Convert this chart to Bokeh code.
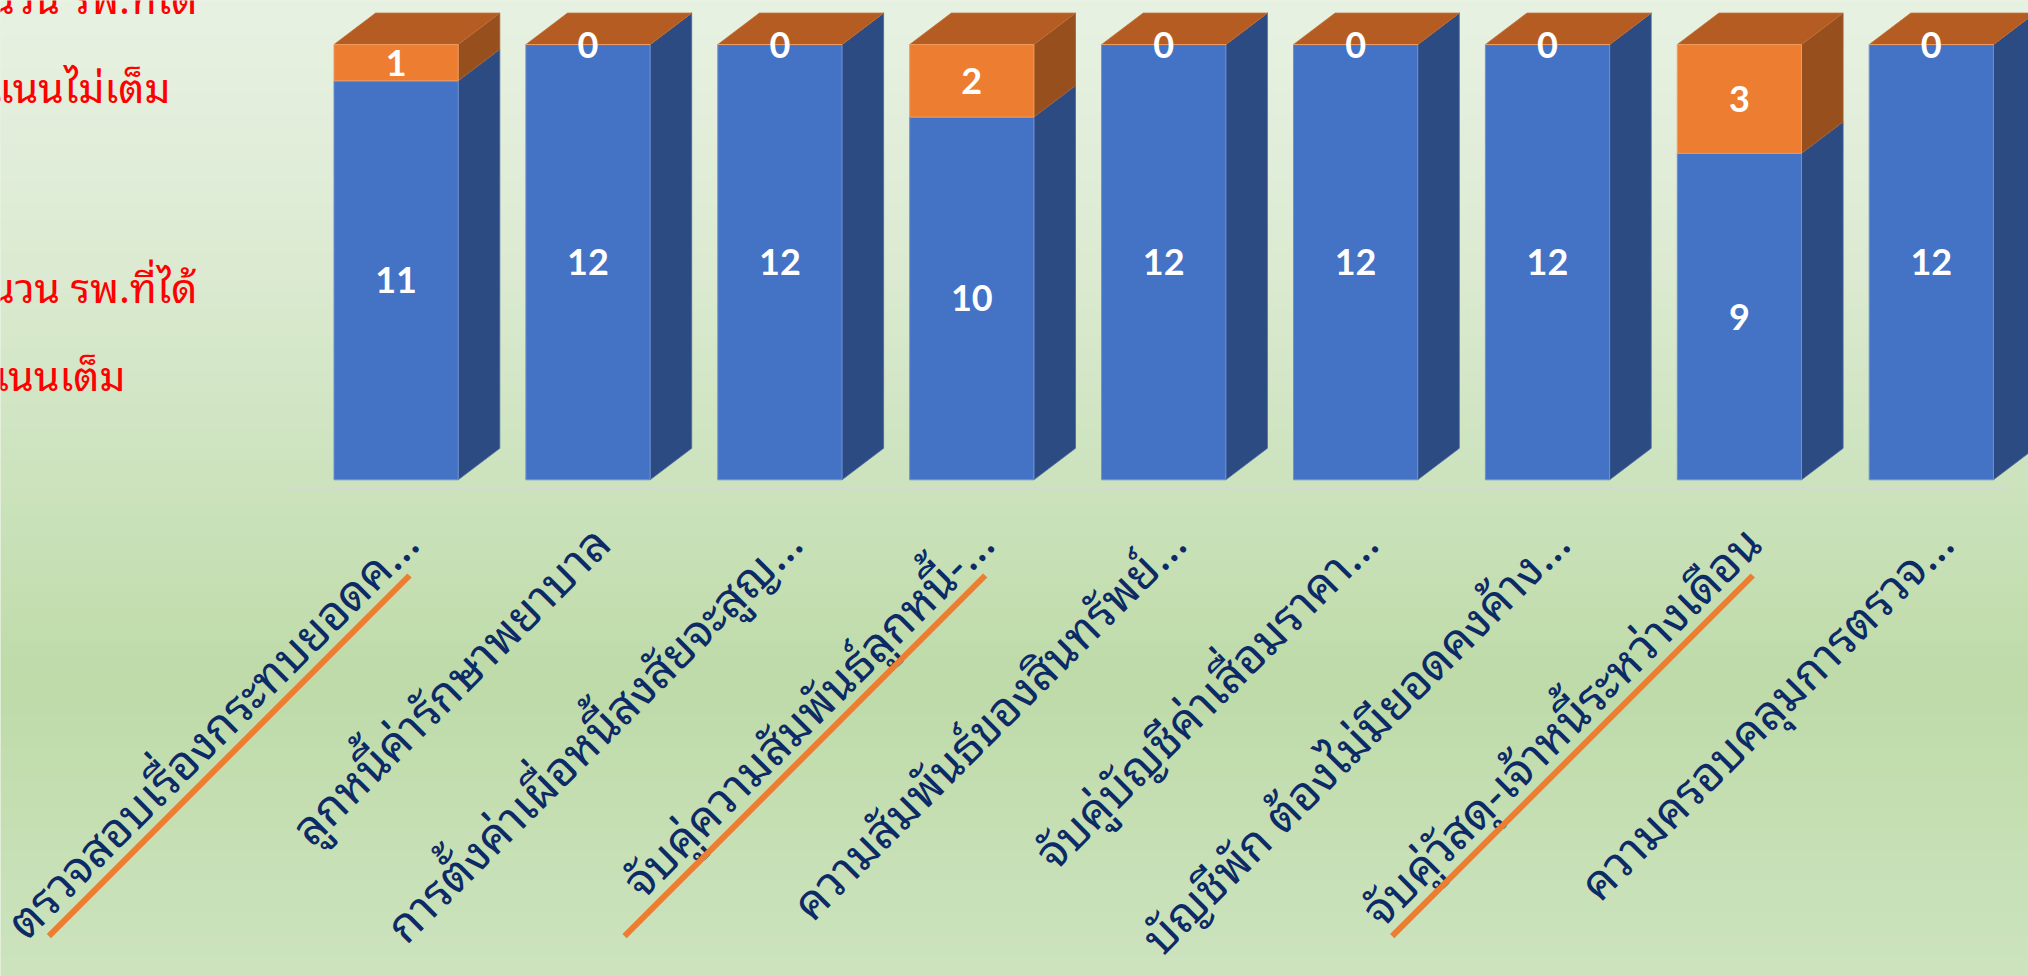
import numpy as np
from bokeh.plotting import figure
from bokeh.models import Range1d, Label, ColumnDataSource
from bokeh.core.properties import value
from bokeh.embed import file_html
from bokeh.resources import INLINE

# ---------------- data ----------------
categories = [
    "ตรวจสอบเรื่องกระทบยอดค…",
    "ลูกหนี้ค่ารักษาพยาบาล",
    "การตั้งค่าเผื่อหนี้สงสัยจะสูญ…",
    "จับคู่ความสัมพันธ์ลูกหนี้-…",
    "ความสัมพันธ์ของสินทรัพย์…",
    "จับคู่บัญชีค่าเสื่อมราคา…",
    "บัญชีพัก ต้องไม่มียอดคงค้าง…",
    "จับคู่วัสดุ-เจ้าหนี้ระหว่างเดือน",
    "ความครอบคลุมการตรวจ…",
]
full_score = [11, 12, 12, 10, 12, 12, 12, 9, 12]      # blue series
not_full = [1, 0, 0, 2, 0, 0, 0, 3, 0]                 # orange series
legend_not_full = ["จำนวน รพ.ที่ได้", "คะแนนไม่เต็ม"]
legend_full = ["จำนวน รพ.ที่ได้", "คะแนนเต็ม"]

# ---------------- geometry / style ----------------
W, H = 2028, 976
PX, PY = 191.9, 36.27            # px per category / px per unit
XS = -395.6 / PX
XE = XS + W / PX
YE = 479.3 / PY
YS = YE - H / PY

BAR_W = 124.2 / PX
DDX = 41.6 / PX
DDY = 31.5 / PY

BLUE, BLUE_SIDE = "#4472C4", "#2C4B82"
ORANGE, ORANGE_SIDE, ORANGE_TOP = "#ED7D31", "#984F1E", "#B45C22"
NAVY = "#0B2A66"
THAI_FONT = "Noto Sans Thai Looped, Noto Sans Thai, sans-serif"

p = figure(width=W, height=H, x_range=Range1d(XS, XE), y_range=Range1d(YS, YE),
           output_backend="svg", toolbar_location=None, min_border=0,
           background_fill_color="#D5E8C9", border_fill_color="#D5E8C9")
p.axis.visible = False
p.grid.visible = False
p.outline_line_color = None

# background gradient (slide fill)
stops_y = [0, 250, 488, 680, 976]
stops_c = ["#E8F2E3", "#DDEBD3", "#CCE3BD", "#BFDBA9", "#CDE4BF"]
def _rgb(h):
    return [int(h[i:i + 2], 16) for i in (1, 3, 5)]
rows = np.arange(H, dtype=float)
cols = np.array([_rgb(c) for c in stops_c], float)
r = np.interp(rows, stops_y, cols[:, 0]).astype(np.uint32)
g = np.interp(rows, stops_y, cols[:, 1]).astype(np.uint32)
b = np.interp(rows, stops_y, cols[:, 2]).astype(np.uint32)
rgba = (255 << 24) | (b << 16) | (g << 8) | r
img = rgba[::-1].reshape(H, 1).astype(np.uint32)
p.image_rgba(image=[img], x=XS, y=YS, dw=XE - XS, dh=YE - YS)

# floor line
p.segment(x0=[XS + 287.3 / PX], y0=[-9.0 / PY], x1=[XS + 2005 / PX], y1=[-9.0 / PY],
          line_color="#D6D9D2", line_width=2.5)

idx = np.arange(len(categories), dtype=float)
blue = np.array(full_score, float)
orng = np.array(not_full, float)
tot = blue + orng
xl, xr = idx - BAR_W / 2, idx + BAR_W / 2

def side(y0, y1):
    xs = [[a, a + DDX, a + DDX, a] for a in xr]
    ys = [[u, u + DDY, v + DDY, v] for u, v in zip(y0, y1)]
    return xs, ys

sx, sy = side(np.zeros_like(blue), blue)
p.patches(sx, sy, fill_color=BLUE_SIDE, line_color="#4A67A0", line_width=0.8)
sx, sy = side(blue, tot)
p.patches(sx, sy, fill_color=ORANGE_SIDE, line_color="#A6622F", line_width=0.8)
tx = [[a, a + DDX, c + DDX, c] for a, c in zip(xl, xr)]
ty = [[t, t + DDY, t + DDY, t] for t in tot]
p.patches(tx, ty, fill_color=ORANGE_TOP, line_color="#C0703A", line_width=0.8)

p.quad(left=xl, right=xr, bottom=0, top=blue, fill_color=BLUE,
       line_color="#6F90D2", line_width=1)
p.quad(left=xl, right=xr, bottom=blue, top=tot, fill_color=ORANGE,
       line_color="#F09A5E", line_width=1)

# value labels
lab = ColumnDataSource(dict(
    x=np.concatenate([idx, idx]),
    y=np.concatenate([blue / 2, blue + orng / 2]),
    t=[str(v) for v in full_score] + [str(v) for v in not_full],
))
p.text(x="x", y="y", text="t", source=lab, text_color="white",
       text_font=value("Lato"), text_font_style="bold", text_font_size="36px",
       text_align="center", text_baseline="middle")

# category labels (rotated 45 deg, right-aligned under each bar)
ANCH_DX, ANCH_Y = 10.4, -(531 - 479.3) / PY
cat_src = ColumnDataSource(dict(x=idx + ANCH_DX / PX, y=np.full(len(idx), ANCH_Y),
                                t=categories))
p.text(x="x", y="y", text="t", source=cat_src, angle=np.pi / 4,
       text_color=NAVY, text_font=value(THAI_FONT), text_font_size="47px",
       text_align="right", text_baseline="alphabetic")

# orange underline under categories that did not get full score
L = 510.0
c45 = np.cos(np.pi / 4)
UL_DX, UL_Y = 13.4, -(575 - 479.3) / PY
ux0, uy0, ux1, uy1 = [], [], [], []
for i, v in enumerate(not_full):
    if v > 0:
        ex = i + UL_DX / PX
        ux1.append(ex); uy1.append(UL_Y)
        ux0.append(ex - L * c45 / PX); uy0.append(UL_Y - L * c45 / PY)
p.segment(x0=ux0, y0=uy0, x1=ux1, y1=uy1, line_color=ORANGE, line_width=6)

# legend text (left, partly cut off like the slide)
for lines, ends, bases in ((legend_not_full, (197, 170), (-5, 84)),
                           (legend_full, (197, 125), (284, 372))):
    for txt, ex, by in zip(lines, ends, bases):
        p.add_layout(Label(x=ex, y=H - by, x_units="screen", y_units="screen",
                           text=txt, text_color="#FF0000",
                           text_font=THAI_FONT, text_font_size="41px",
                           text_align="right", text_baseline="alphabetic"))

open("out.html", "w").write(file_html(p, INLINE))
